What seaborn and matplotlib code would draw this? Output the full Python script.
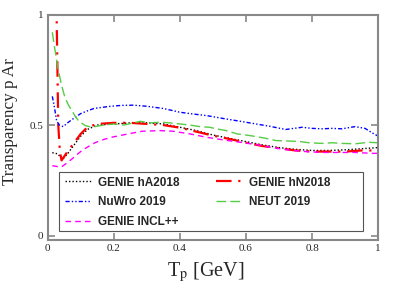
import numpy as np
import pandas as pd
import seaborn as sns
import matplotlib
matplotlib.use('Agg')
import matplotlib.pyplot as plt
from matplotlib.patches import Rectangle

# curves (Tp in GeV, transparency)
ha_tp = [0.014, 0.03, 0.045, 0.06, 0.08, 0.1, 0.12, 0.15, 0.2, 0.25, 0.3, 0.35, 0.4, 0.45,
         0.5, 0.55, 0.6, 0.65, 0.7, 0.75, 0.8, 0.85, 0.9, 0.95, 1.0]
ha_val = [0.375, 0.37, 0.345, 0.37, 0.41, 0.45, 0.48, 0.50, 0.505, 0.51, 0.51, 0.505, 0.49, 0.475,
          0.455, 0.44, 0.425, 0.41, 0.398, 0.39, 0.385, 0.385, 0.388, 0.393, 0.398]

hn_tp = [0.024, 0.027, 0.032, 0.037, 0.042, 0.06, 0.08, 0.1, 0.12, 0.15, 0.2, 0.25, 0.3, 0.35,
         0.4, 0.45, 0.5, 0.55, 0.6, 0.65, 0.7, 0.75, 0.8, 0.85, 0.9, 0.95, 1.0]
hn_val = [1.1, 1.0, 0.5, 0.38, 0.34, 0.38, 0.42, 0.46, 0.49, 0.505, 0.51, 0.51, 0.505, 0.5,
          0.488, 0.47, 0.452, 0.437, 0.42, 0.405, 0.395, 0.385, 0.38, 0.38, 0.38, 0.385, 0.385]

nuwro_tp = [0.014, 0.018, 0.022, 0.027, 0.035, 0.047, 0.06, 0.083, 0.1, 0.123, 0.14, 0.164, 0.19,
            0.224, 0.26, 0.3, 0.35, 0.4, 0.44, 0.48, 0.53, 0.583, 0.63, 0.67, 0.72, 0.77, 0.8,
            0.83, 0.86, 0.89, 0.93, 0.96, 0.987, 1.0]
nuwro_val = [0.63, 0.6, 0.566, 0.52, 0.5, 0.493, 0.51, 0.535, 0.552, 0.566, 0.575, 0.58, 0.585,
             0.589, 0.59, 0.585, 0.575, 0.558, 0.55, 0.543, 0.53, 0.517, 0.505, 0.495, 0.48, 0.49,
             0.485, 0.483, 0.485, 0.483, 0.493, 0.485, 0.46, 0.45]

neut_tp = [0.014, 0.02, 0.032, 0.042, 0.052, 0.063, 0.073, 0.083, 0.093, 0.113, 0.133, 0.15, 0.17,
           0.2, 0.23, 0.26, 0.28, 0.31, 0.34, 0.37, 0.4, 0.43, 0.46, 0.49, 0.51, 0.54, 0.573, 0.6,
           0.63, 0.66, 0.69, 0.72, 0.76, 0.79, 0.83, 0.86, 0.89, 0.93, 0.97, 1.0]
neut_val = [0.92, 0.86, 0.75, 0.68, 0.626, 0.59, 0.566, 0.54, 0.52, 0.498, 0.49, 0.495, 0.5,
            0.505, 0.5, 0.51, 0.517, 0.51, 0.513, 0.51, 0.505, 0.5, 0.493, 0.49, 0.483, 0.475,
            0.46, 0.455, 0.448, 0.44, 0.43, 0.428, 0.426, 0.42, 0.417, 0.42, 0.417, 0.415, 0.422, 0.42]

incl_tp = [0.014, 0.03, 0.042, 0.055, 0.073, 0.09, 0.103, 0.12, 0.143, 0.17, 0.194, 0.22, 0.244,
           0.285, 0.34, 0.38, 0.43, 0.48, 0.53, 0.583, 0.633, 0.68, 0.73, 0.78, 0.83, 0.88, 0.93,
           0.98, 1.0]
incl_val = [0.316, 0.312, 0.311, 0.325, 0.346, 0.368, 0.384, 0.4, 0.42, 0.435, 0.445, 0.453, 0.46,
            0.472, 0.475, 0.472, 0.46, 0.445, 0.433, 0.422, 0.411, 0.398, 0.387, 0.38, 0.376,
            0.376, 0.376, 0.372, 0.372]

xticks = [0, 0.2, 0.4, 0.6, 0.8, 1]
xtick_labels = ['0', '0.2', '0.4', '0.6', '0.8', '1']
yticks = [0, 0.5, 1]
ytick_labels = ['0', '0.5', '1']

sns.set_style('ticks')
plt.rcParams['font.family'] = ['Liberation Serif', 'DejaVu Serif']
plt.rcParams['mathtext.fontset'] = 'stix'

fig = plt.figure(figsize=(3.99, 2.86), dpi=100)
ax = fig.add_axes([0.1195, 0.161, 0.8285, 0.788])

series = [
    ('GENIE hA2018', ha_tp, ha_val, 'black', (0, (1, 1.5)), 1.0),
    ('GENIE hN2018', hn_tp, hn_val, '#ff0000', (0, (7, 3, 1, 3)), 1.6),
    ('NuWro 2019', nuwro_tp, nuwro_val, '#0000ff', (0, (3, 1.5, 1, 1.5, 1, 1.5)), 1.0),
    ('NEUT 2019', neut_tp, neut_val, '#55cc44', (0, (7, 3)), 1.0),
    ('GENIE INCL++', incl_tp, incl_val, '#ff00ff', (0, (4, 3)), 1.0),
]

handles = {}
for name, tp, val, col, ls, lw in series:
    df = pd.DataFrame({'Tp': tp, 'T': val})
    sns.lineplot(data=df, x='Tp', y='T', ax=ax, color=col, linewidth=lw,
                 sort=False, estimator=None, label=name)
    line = ax.get_lines()[-1]
    line.set_linestyle(ls)
    handles[name] = line

ax.set_xlim(0, 1)
ax.set_ylim(-0.02, 1)
ax.set_xticks(xticks, xtick_labels)
ax.set_yticks(yticks, ytick_labels)
ax.tick_params(direction='in', top=True, right=True, length=5, width=1.2,
               color='#888888', labelsize=8, pad=3)
for s in ax.spines.values():
    s.set_color('#888888')
    s.set_linewidth(1.5)

ax.set_xlabel(r'T$_\mathrm{p}$ [GeV]', fontsize=14.5)
ax.xaxis.set_label_coords(0.478, -0.088)
ax.set_ylabel('Transparency p Ar', fontsize=12.3)
ax.yaxis.set_label_coords(-0.09, 0.525)

# legend box drawn on its own, columns sit to the left inside it
ax.add_patch(Rectangle((0.035, 0.04), 0.92, 0.263, transform=ax.transAxes,
                       facecolor='white', edgecolor='#555555', linewidth=0.8, zorder=4.5))
order = ['GENIE hA2018', 'NuWro 2019', 'GENIE INCL++', 'GENIE hN2018', 'NEUT 2019']
leg = ax.legend([handles[n] for n in order], order, ncol=2, loc='upper left',
                bbox_to_anchor=(0.052, 0.281), frameon=False,
                prop={'family': 'Liberation Sans', 'weight': 'bold', 'size': 8.5},
                handlelength=2.2, handletextpad=0.6, labelspacing=0.66,
                columnspacing=3.1, borderaxespad=0, borderpad=0)
leg.set_zorder(5)

fig.savefig('out.png', dpi=100)
